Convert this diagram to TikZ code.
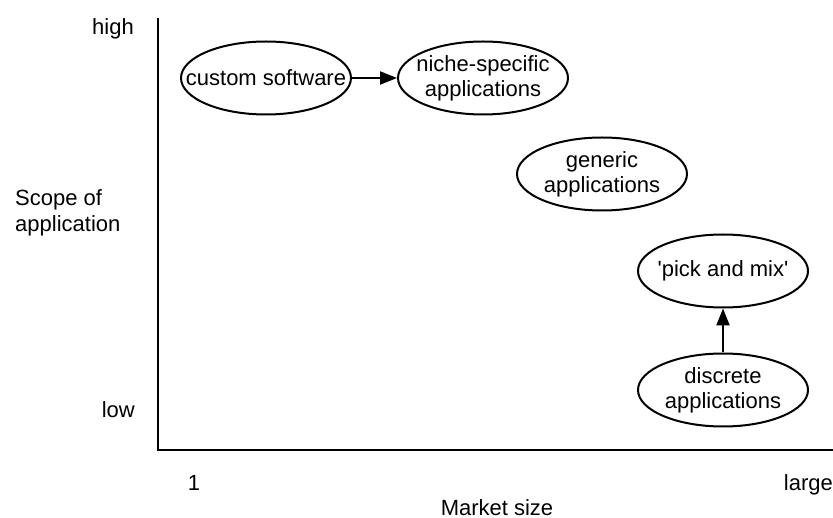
\documentclass[tikz,border=0pt]{standalone}
\usepackage{fontspec}
\setmainfont{Liberation Sans}[Ligatures=TeXOff]
\usetikzlibrary{shapes.geometric,arrows.meta}
\tikzset{
  bubble/.style 2 args={ellipse, draw, line width=2pt, minimum width=170pt, minimum height=73pt,
    inner sep=0pt,
    label={[inner sep=0pt, align=center, font=\fontsize{22}{25}\selectfont]center:#1}},
  axislabel/.style={inner sep=0pt, font=\fontsize{22}{26}\selectfont},
  axisline/.style={line width=2.6pt},
  link/.style={line width=2.2pt, -{Triangle[length=17pt,width=13pt]}}
}
\begin{document}
\begin{tikzpicture}[x=1pt,y=-1pt]
  \useasboundingbox (0,0) rectangle (833,518);
  % axes
  \coordinate (top) at (158,18);
  \coordinate (origin) at (158,450);
  \coordinate (right) at (833,450);
  \draw[axisline] (top) -- (origin) -- (right);
  % axis labels
  \node[axislabel, anchor=base east] (high) at (134,35) {high};
  \node[axislabel, anchor=base east] (low) at (135,418) {low};
  \node[axislabel, anchor=base west, align=left] (scope) at (15,232) {Scope of\\application};
  \node[axislabel, anchor=base] (one) at (194,490) {1};
  \node[axislabel, anchor=base east] (large) at (833,490) {large};
  \node[axislabel, anchor=base] (market) at (497,515) {Market size};
  % categories (fixed-size ellipses with centred captions)
  \node[bubble={custom software}{}] (custom) at (266,78) {};
  \node[bubble={niche-specific\\applications}{}] (niche) at (483,78) {};
  \node[bubble={generic\\applications}{}] (generic) at (602,174) {};
  \node[bubble={'pick and mix'}{}] (pick) at (723,271) {};
  \node[bubble={discrete\\applications}{}] (discrete) at (723,390) {};
  % transitions
  \draw[link] (custom) -- (niche);
  \draw[link] (discrete) -- (pick);
\end{tikzpicture}
\end{document}
